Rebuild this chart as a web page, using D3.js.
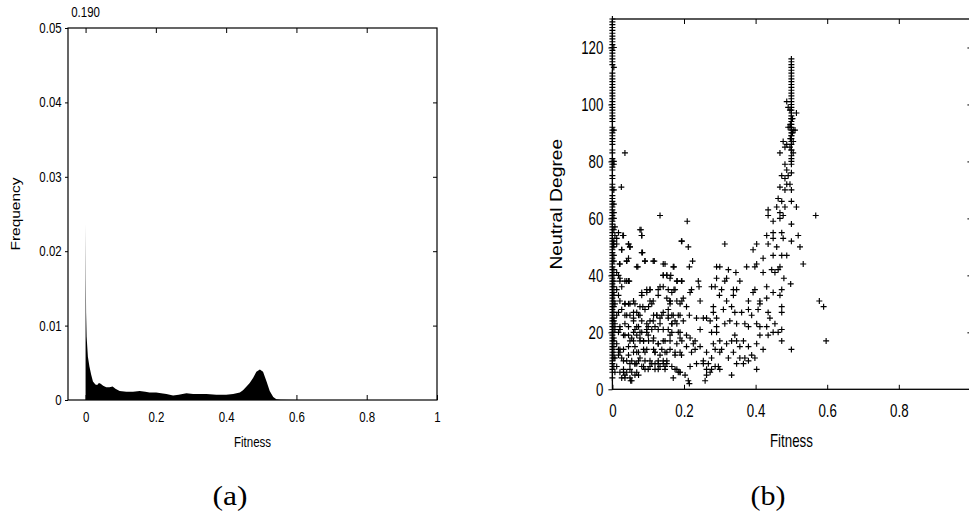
<!DOCTYPE html>
<html lang="en">
<head>
<meta charset="utf-8">
<title>Fitness distribution and neutral degree</title>
<script src="https://d3js.org/d3.v7.min.js"></script>
<style>
  body { margin: 0; background: #fff; }
  svg text { font-family: "Liberation Sans", Arial, sans-serif; fill: #000; }
</style>
</head>
<body>
<svg id="fig" width="969" height="515"></svg>
<script>
// ---------- data: panel (a), frequency of fitness values ----------
var freqFitness = [0, 0.0008, 0.0015, 0.003, 0.0066, 0.011, 0.016, 0.021, 0.028, 0.033, 0.038, 0.043,
  0.050, 0.059, 0.068, 0.077, 0.085, 0.097, 0.116, 0.135, 0.154, 0.170, 0.182, 0.201, 0.215, 0.230,
  0.249, 0.265, 0.287, 0.306, 0.325, 0.344, 0.372, 0.400, 0.420, 0.439, 0.448, 0.458, 0.467, 0.477,
  0.486, 0.496, 0.505, 0.515, 0.524, 0.534, 0.543, 0.555, 0.600, 1.0];
var freqValue = [0.0237, 0.0161, 0.0117, 0.0085, 0.0058, 0.0045, 0.0034, 0.0025, 0.0021, 0.0020, 0.0023, 0.0022,
  0.0019, 0.0017, 0.0017, 0.0018, 0.0015, 0.0012, 0.0011, 0.0011, 0.0012, 0.0011, 0.0010, 0.0010, 0.0009, 0.0008,
  0.0006, 0.0007, 0.0009, 0.0008, 0.0008, 0.0008, 0.0007, 0.0007, 0.0008, 0.0010, 0.0013, 0.0018, 0.0023, 0.0030,
  0.0038, 0.0041, 0.0038, 0.0025, 0.0012, 0.0004, 0.0001, 0.00003, 0, 0];
var peakLabel = "0.190";   // value of the off-scale bin at fitness 0
var xTicksA = [0, 0.2, 0.4, 0.6, 0.8, 1];
var yTicksA = [0, 0.01, 0.02, 0.03, 0.04, 0.05];

// ---------- data: panel (b), neutral degree vs fitness ----------
// degrees of the many points sitting at fitness 0 and at fitness 0.5
var zeroColumnDegrees = [4,6,7,8,9,10,11,12,13,14,15,16,17,18,19,20,21,22,23,24,25,26,27,28,29,30,31,32,33,34,35,
  36,37,38,39,40,41,42,43,44,45,46,47,48,49,50,51,52,53,54,55,56,57,58,59,60,61,62,63,64,65,66,67,68,70,71,72,74,
  75,77,78,79,80,81,83,84,86,87,88,89,90,91,92,94,95,96,97,98,99,100,101,102,103,104,105,106,107,108,109,110,111,
  114,115,116,117,118,119,120,121,122,123,124,125,126,127,128,129,130];
var halfColumnDegrees = [80,82,84,86,87,88,89,90,91,92,93,94,95,96,97,98,99,100,101,102,103,104,105,106,107,108,
  109,110,111,112,113,114,115,116];
// remaining points as [fitness, neutral degree]
var scatterPoints = [
  [0.473,66],[0.500,66],[0.459,64],[0.482,64],[0.514,64],[0.435,63],[0.468,62],[0.477,61],[0.435,61],[0.133,61],
  [0.209,59],[0.568,61],[0.468,60],[0.500,58],[0.449,59],[0.463,67],
  [0.077,56],[0.082,54],[0.007,57],[0.029,54],[0.012,53],[0.003,51],[0.045,51],[0.049,50],[0.026,49],[0.193,52],
  [0.212,50],[0.314,51],[0.403,51],[0.431,54],[0.449,53],[0.435,51],[0.477,53],[0.500,52],[0.519,54],[0.524,50],
  [0.459,50],[0.393,49],[0.449,55],[0.473,55],
  [0.082,48],[0.040,45],[0.091,45],[0.114,45],[0.071,43],[0.020,44],[0.147,44],[0.172,43],[0.215,43],[0.224,45],
  [0.421,46],[0.449,47],[0.473,47],[0.487,47],[0.403,44],[0.398,43],[0.421,41],[0.445,42],[0.468,43],[0.533,44],
  [0.291,43],[0.300,43],[0.324,42],[0.345,41],[0.375,43],[0.152,40],[0.163,40],
  [0.040,38],[0.047,38],[0.021,38],[0.142,40],[0.181,38],[0.193,38],[0.240,38],[0.242,36],[0.291,39],[0.314,38],
  [0.319,39],[0.356,38],[0.479,39],[0.498,37],[0.454,41],[0.463,42],[0.096,35],[0.105,35],[0.133,36],[0.142,36],
  [0.156,35],[0.172,35],[0.082,33],[0.114,31],[0.221,35],[0.217,34],[0.277,36],[0.287,36],[0.305,35],[0.338,35],
  [0.347,35],[0.398,35],[0.393,34],[0.431,36],[0.449,34],[0.473,35],[0.299,33],[0.319,31],[0.338,33],[0.380,31],
  [0.468,33],[0.412,31],[0.431,32],[0.578,31],
  [0.007,30],[0.035,30],[0.049,30],[0.063,30],[0.085,29],[0.105,31],[0.110,30],[0.161,31],[0.161,30],[0.198,32],
  [0.189,30],[0.207,29],[0.245,31],[0.156,28],[0.189,26],[0.215,26],[0.235,25],[0.282,29],[0.282,27],[0.291,25],
  [0.310,28],[0.333,29],[0.342,27],[0.361,27],[0.380,28],[0.389,26],[0.412,30],[0.407,28],[0.435,27],[0.440,25],
  [0.473,29],[0.473,27],[0.040,26],[0.059,25],[0.077,26],[0.017,27],[0.124,26],[0.138,26],[0.156,25],[0.166,26],
  [0.175,24],[0.114,24],[0.096,23],[0.100,22],[0.133,23],[0.166,23],[0.180,23],[0.254,25],[0.263,25],[0.273,24],
  [0.291,22],[0.314,23],[0.328,24],[0.347,23],[0.370,23],[0.380,22],[0.403,23],[0.412,22],[0.431,22],[0.454,23],
  [0.473,21],
  [0.007,21],[0.021,21],[0.059,20],[0.068,22],[0.077,20],[0.096,20],[0.110,21],[0.035,19],[0.049,17],[0.059,17],
  [0.077,17],[0.087,17],[0.063,15],[0.100,19],[0.114,17],[0.128,16],[0.147,17],[0.161,19],[0.166,20],[0.184,20],
  [0.189,18],[0.207,19],[0.217,18],[0.231,17],[0.245,21],[0.226,16],[0.207,15],[0.231,14],[0.221,13],[0.245,15],
  [0.277,20],[0.291,20],[0.282,16],[0.287,14],[0.300,17],[0.305,14],[0.319,16],[0.333,17],[0.342,19],[0.347,17],
  [0.356,15],[0.366,17],[0.380,15],[0.403,16],[0.412,19],[0.421,14],[0.435,19],[0.449,20],[0.463,20],[0.473,17],
  [0.500,14],[0.389,12],[0.398,11],[0.356,11],[0.338,13],[0.324,11],[0.300,13],[0.277,11],[0.263,13],[0.254,10],
  [0.193,12],[0.175,13],[0.152,13],[0.138,14],[0.119,13],[0.091,13],[0.068,13],[0.045,12],[0.021,13],[0.017,14],
  [0.007,11],
  [0.031,10],[0.049,9],[0.063,9],[0.073,10],[0.087,8],[0.100,7],[0.110,9],[0.119,9],[0.133,8],[0.142,10],
  [0.152,9],[0.031,6],[0.040,6],[0.054,6],[0.068,6],[0.073,5],[0.051,3],[0.026,4],[0.035,4],[0.128,7],
  [0.147,7],[0.175,7],[0.184,6],[0.189,6],[0.170,4],[0.203,5],[0.215,2],[0.212,3],[0.235,9],[0.254,9],
  [0.268,9],[0.263,7],[0.277,7],[0.263,5],[0.273,6],[0.287,8],[0.296,8],[0.300,7],[0.333,5],[0.347,9],
  [0.366,9],[0.370,11],[0.380,10],[0.403,7],[0.259,3],[0.217,8],
  [0.017,55],[0.031,54],[0.007,54],[0.045,51],[0.049,50],[0.026,49],[0.012,51],[0.040,45],[0.045,46],[0.021,44],
  [0.012,41],[0.017,40],[0.021,39],[0.035,38],[0.045,38],[0.026,36],[0.012,35],[0.017,33],[0.021,31],[0.035,30],
  [0.045,30],[0.026,28],[0.035,26],[0.049,26],[0.012,26],[0.007,23],[0.021,22],[0.035,23],[0.045,22],[0.017,20],
  [0.031,19],[0.045,19],[0.054,18],[0.012,16],[0.021,14],[0.031,14],[0.045,15],[0.017,12],[0.026,11],[0.040,10],
  [0.054,10],[0.012,8],[0.031,7],[0.049,7],[0.021,6],[0.035,5],[0.049,4],[0.054,3],[0.007,6],
  [0.080,56],[0.082,54],[0.084,48],[0.091,45],[0.117,45],[0.142,44],[0.068,43],[0.170,43],[0.194,52],[0.059,31],
  [0.082,34],[0.096,34],[0.105,35],[0.128,35],[0.142,40],[0.152,40],[0.161,39],[0.180,38],[0.194,38],[0.128,33],
  [0.152,32],[0.161,31],[0.166,34],[0.175,35],[0.180,31],[0.194,31],[0.077,29],[0.091,28],[0.101,29],[0.115,26],
  [0.124,26],[0.133,25],[0.142,27],[0.156,26],[0.170,26],[0.184,26],[0.059,27],[0.068,27],[0.073,26],[0.082,24],
  [0.059,24],[0.063,21],[0.073,22],[0.082,20],[0.096,21],[0.105,24],[0.119,22],[0.128,21],[0.142,21],[0.156,21],
  [0.166,23],[0.189,20],[0.198,24],[0.068,19],[0.077,18],[0.087,17],[0.101,17],[0.115,18],[0.128,16],[0.142,17],
  [0.161,17],[0.180,16],[0.194,17],[0.059,13],[0.073,13],[0.087,14],[0.096,14],[0.115,14],[0.119,13],[0.133,12],
  [0.147,13],[0.161,14],[0.175,12],[0.189,13],[0.068,9],[0.077,11],[0.091,10],[0.105,10],[0.128,10],[0.142,9],
  [0.152,10],[0.166,8],[0.180,7],[0.189,6],[0.063,9],[0.082,8],[0.091,7],[0.105,8],[0.119,7],[0.128,9],
  [0.147,8],[0.063,5],
  [0.004,8],[0.004,11],[0.004,13],[0.004,15],[0.004,17],[0.004,18],[0.004,20],[0.004,22],[0.004,24],[0.004,25],
  [0.004,27],[0.004,29],[0.004,31],[0.004,33],[0.004,34],[0.004,36],[0.004,38],[0.004,40],[0.004,42],[0.004,45],
  [0.004,47],[0.004,50],[0.004,52],[0.004,56],[0.004,60],[0.004,62],[0.004,65],[0.004,70],[0.004,79],[0.004,80],
  [0.004,91],[0.004,113],[0.004,120],
  [0.487,101],[0.491,99],[0.496,98],[0.514,97],[0.500,95],[0.496,92],[0.505,91],[0.491,92],[0.510,91],[0.500,89],
  [0.505,87],[0.477,87],[0.487,86],[0.482,85],[0.496,85],[0.468,83],[0.500,84],[0.505,83],[0.500,81],[0.500,79],
  [0.482,79],[0.487,77],[0.473,75],[0.491,75],[0.500,76],[0.482,74],[0.487,72],[0.468,71],[0.496,72],[0.482,70],
  [0.500,70],[0.503,95],[0.497,93],[0.503,90],[0.497,88],
  [0.035,83],[0.025,71],[0.590,29],[0.597,17]
];
var xTicksB = [0, 0.2, 0.4, 0.6, 0.8];
var yTicksB = [0, 20, 40, 60, 80, 100, 120];

// ---------- layout ----------
var svg = d3.select("#fig");

var xA = d3.scaleLinear().domain([-0.05, 1]).range([68, 437]);
var yA = d3.scaleLinear().domain([0, 0.05]).range([400, 28]);
var xB = d3.scaleLinear().domain([0, 1]).range([612.4, 970.4]);
var yB = d3.scaleLinear().domain([0, 130]).range([389.3, 19]);

// text squeezed sideways, like the narrow Helvetica of the source
function label(parent, x, y, str, size, sx, anchor, rotated) {
  var t = parent.append("g")
    .attr("transform", "translate(" + x + "," + y + ") scale(" + sx + ",1)")
    .append("text")
    .attr("text-anchor", anchor)
    .style("font-size", size + "px")
    .text(str);
  if (rotated) t.attr("transform", "rotate(-90)");
  return t;
}

function styleAxis(g, size, sx, shift) {
  g.select(".domain").remove();
  g.selectAll("line").attr("stroke", "#000").attr("stroke-width", 1);
  g.selectAll("text")
    .style("font-size", size + "px")
    .style("font-family", '"Liberation Sans", Arial, sans-serif')
    .attr("fill", "#000");
  if (shift != null) {
    g.selectAll("text").attr("x", null)
      .attr("transform", "translate(" + shift + ",0) scale(" + sx + ",1)");
  } else {
    g.selectAll("text").attr("transform", "scale(" + sx + ",1)");
  }
}

// ================= panel (a) =================
var pa = svg.append("g");

pa.append("path")
  .datum(d3.zip(freqFitness, freqValue))
  .attr("fill", "#000")
  .attr("d", d3.area()
    .x(function(d) { return xA(d[0]); })
    .y0(yA(0))
    .y1(function(d) { return yA(d[1]); }));

pa.append("g").attr("transform", "translate(0," + yA(0) + ")")
  .call(d3.axisBottom(xA).tickValues(xTicksA).tickFormat(String)
    .tickSizeInner(-5).tickSizeOuter(0).tickPadding(12))
  .call(styleAxis, 14, 0.82);

pa.append("g").attr("transform", "translate(0," + yA(0.05) + ")")
  .call(d3.axisTop(xA).tickValues(xTicksA.slice(0, 5)).tickFormat("")
    .tickSizeInner(-5).tickSizeOuter(0))
  .call(styleAxis, 14, 0.82);

pa.append("g").attr("transform", "translate(" + xA(-0.05) + ",0)")
  .call(d3.axisLeft(yA).tickValues(yTicksA).tickFormat(String)
    .tickSizeInner(3).tickSizeOuter(0))
  .call(styleAxis, 14, 0.82, -6.3);

pa.append("g").attr("transform", "translate(" + xA(1) + ",0)")
  .call(d3.axisRight(yA).tickValues(yTicksA.slice(1, 5)).tickFormat("")
    .tickSizeInner(-4).tickSizeOuter(0))
  .call(styleAxis, 14, 0.82);

pa.append("rect")
  .attr("x", xA(-0.05)).attr("y", yA(0.05))
  .attr("width", xA(1) - xA(-0.05)).attr("height", yA(0) - yA(0.05))
  .attr("fill", "none").attr("stroke", "#000").attr("stroke-width", 1.2);

label(pa, xA(0), 17, peakLabel, 14, 0.82, "middle");
label(pa, (xA(-0.05) + xA(1)) / 2, 447, "Fitness", 14, 0.82, "middle");
label(pa, 20, (yA(0) + yA(0.05)) / 2, "Frequency", 15.5, 0.88, "middle", true);

// ================= panel (b) =================
var pb = svg.append("g");

pb.append("g").attr("transform", "translate(0," + yB(0) + ")")
  .call(d3.axisBottom(xB).tickValues(xTicksB).tickFormat(String)
    .tickSizeInner(-4.5).tickSizeOuter(0).tickPadding(14.6))
  .call(styleAxis, 18, 0.74);

pb.append("g").attr("transform", "translate(0," + yB(130) + ")")
  .call(d3.axisTop(xB).tickValues(xTicksB.slice(1)).tickFormat("")
    .tickSizeInner(-5).tickSizeOuter(0))
  .call(styleAxis, 18, 0.74);

pb.append("g").attr("transform", "translate(" + xB(0) + ",0)")
  .call(d3.axisLeft(yB).tickValues(yTicksB).tickFormat(String)
    .tickSizeInner(4).tickSizeOuter(0))
  .call(styleAxis, 18, 0.74, -9);

pb.append("g").attr("transform", "translate(" + xB(1) + ",0)")
  .call(d3.axisRight(yB).tickValues(yTicksB.slice(1)).tickFormat("")
    .tickSizeInner(-3).tickSizeOuter(0))
  .call(styleAxis, 18, 0.74);

pb.append("rect")
  .attr("x", xB(0)).attr("y", yB(130))
  .attr("width", xB(1) - xB(0)).attr("height", yB(0) - yB(130))
  .attr("fill", "none").attr("stroke", "#000").attr("stroke-width", 1.3);

var allPoints = zeroColumnDegrees.map(function(d) { return [0, d]; })
  .concat(halfColumnDegrees.map(function(d) { return [0.5, d]; }))
  .concat(scatterPoints);

var plus = "M-3,0H3M0,-3V3";
pb.append("g").selectAll("path")
  .data(allPoints)
  .enter()
  .append("path")
  .attr("transform", function(d) { return "translate(" + xB(d[0]) + "," + yB(d[1]) + ")"; })
  .attr("d", plus)
  .attr("stroke", "#000")
  .attr("stroke-width", 1.15)
  .attr("fill", "none");

label(pb, (xB(0) + xB(1)) / 2, 446.7, "Fitness", 18, 0.74, "middle");
label(pb, 562, (yB(0) + yB(130)) / 2, "Neutral Degree", 19.3, 0.85, "middle", true);

// ================= captions =================
svg.selectAll(".caption")
  .data([["(a)", 230], ["(b)", 768]])
  .enter()
  .append("text")
  .attr("class", "caption")
  .attr("x", function(d) { return d[1]; })
  .attr("y", 505)
  .attr("text-anchor", "middle")
  .attr("textLength", 35)
  .attr("lengthAdjust", "spacingAndGlyphs")
  .style("font-family", '"Liberation Serif", "DejaVu Serif", serif')
  .style("font-size", "27px")
  .text(function(d) { return d[0]; });
</script>
</body>
</html>
